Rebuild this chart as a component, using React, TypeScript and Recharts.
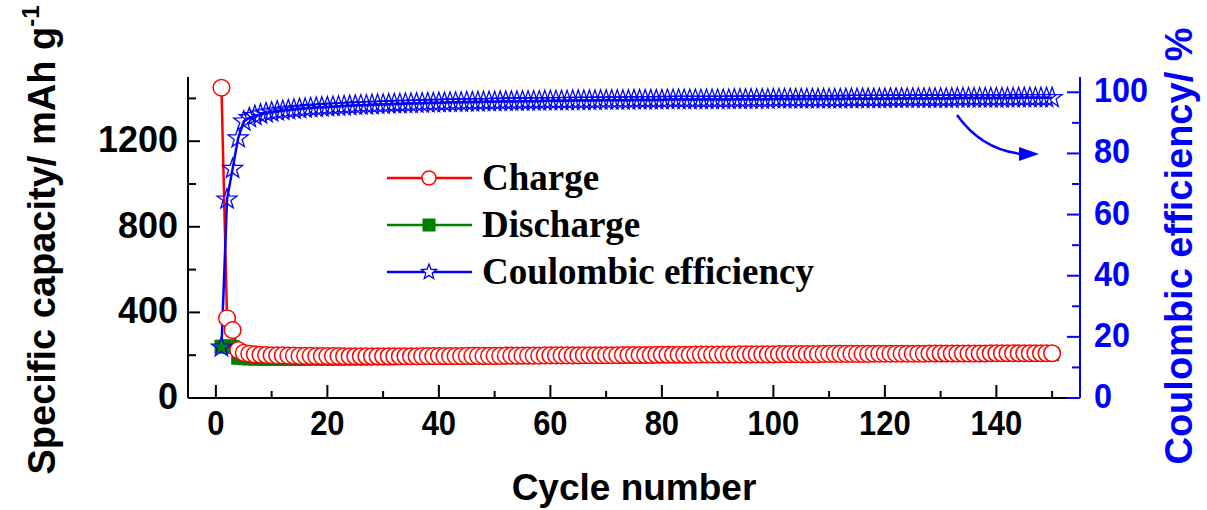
import React from 'react';
import { ComposedChart, Line, XAxis, YAxis, Legend } from 'recharts';

// ---------------- data ----------------
const chargeCapacity = [
  1450, 373, 317, 224, 211, 207, 204, 202, 201, 200,
  199, 199, 198, 198, 197, 197, 197, 196, 196, 196,
  196, 196, 195, 195, 195, 195, 195, 195, 195, 195,
  195, 195, 195, 195, 195, 195, 196, 196, 196, 196,
  196, 196, 196, 196, 197, 197, 197, 197, 197, 197,
  197, 198, 198, 198, 198, 198, 198, 198, 199, 199,
  199, 199, 199, 199, 199, 200, 200, 200, 200, 200,
  200, 200, 201, 201, 201, 201, 201, 201, 202, 202,
  202, 202, 202, 202, 202, 203, 203, 203, 203, 203,
  203, 203, 203, 204, 204, 204, 204, 204, 204, 204,
  205, 205, 205, 205, 205, 205, 205, 205, 206, 206,
  206, 206, 206, 206, 206, 206, 206, 207, 207, 207,
  207, 207, 207, 207, 207, 207, 207, 208, 208, 208,
  208, 208, 208, 208, 208, 208, 208, 208, 209, 209,
  209, 209, 209, 209, 209, 209, 209, 209, 209, 209,
];

const dischargeCapacity = [
  240, 242, 238, 188, 186, 185, 184, 184, 183, 183,
  183, 183, 183, 183, 183, 184, 184, 184, 184, 184,
  184, 184, 185, 185, 185, 185, 185, 186, 186, 186,
  186, 186, 187, 187, 187, 187, 188, 188, 188, 188,
  188, 188, 189, 189, 189, 189, 190, 190, 190, 190,
  190, 191, 191, 191, 191, 191, 192, 192, 192, 192,
  193, 193, 193, 193, 193, 194, 194, 194, 194, 194,
  195, 195, 195, 195, 195, 196, 196, 196, 196, 196,
  197, 197, 197, 197, 197, 197, 198, 198, 198, 198,
  198, 198, 199, 199, 199, 199, 199, 199, 199, 200,
  200, 200, 200, 200, 200, 200, 201, 201, 201, 201,
  201, 201, 201, 202, 202, 202, 202, 202, 202, 203,
  203, 203, 203, 203, 203, 203, 203, 204, 204, 204,
  204, 204, 204, 204, 204, 204, 204, 205, 205, 205,
  205, 205, 205, 205, 205, 205, 205, 205, 205, 205,
];

const coulombicEfficiency = [
  16.6, 65, 75, 85, 90.5, 91.6, 92.3, 92.8, 93.2, 93.5,
  93.8, 94.0, 94.2, 94.4, 94.6, 94.7, 94.9, 95.0, 95.1, 95.2,
  95.3, 95.4, 95.5, 95.6, 95.7, 95.8, 95.8, 95.9, 96.0, 96.0,
  96.1, 96.2, 96.2, 96.3, 96.3, 96.4, 96.4, 96.5, 96.5, 96.6,
  96.6, 96.7, 96.7, 96.7, 96.8, 96.8, 96.8, 96.9, 96.9, 96.9,
  97.0, 97.0, 97.0, 97.0, 97.1, 97.1, 97.1, 97.1, 97.2, 97.2,
  97.2, 97.2, 97.2, 97.3, 97.3, 97.3, 97.3, 97.3, 97.4, 97.4,
  97.4, 97.4, 97.4, 97.4, 97.5, 97.5, 97.5, 97.5, 97.5, 97.5,
  97.6, 97.6, 97.6, 97.6, 97.6, 97.6, 97.6, 97.6, 97.6, 97.6,
  97.6, 97.6, 97.7, 97.7, 97.7, 97.7, 97.7, 97.7, 97.7, 97.8,
  97.8, 97.8, 97.8, 97.8, 97.8, 97.8, 97.8, 97.8, 97.8, 97.8,
  97.8, 97.8, 97.9, 97.9, 97.9, 97.9, 97.9, 97.9, 97.9, 97.9,
  98.0, 98.0, 98.0, 98.0, 98.0, 98.0, 98.0, 98.0, 98.0, 98.0,
  98.0, 98.0, 98.1, 98.1, 98.1, 98.1, 98.1, 98.1, 98.1, 98.1,
  98.1, 98.1, 98.1, 98.2, 98.2, 98.2, 98.2, 98.2, 98.2, 98.2,
];

const cycleNumbers = chargeCapacity.map((_, i) => i + 1);

const xTicks = [0, 10, 20, 30, 40, 50, 60, 70, 80, 90, 100, 110, 120, 130, 140, 150];
const xLabelTicks = [0, 20, 40, 60, 80, 100, 120, 140];
const leftTicks = [0, 200, 400, 600, 800, 1000, 1200, 1400];
const leftLabelTicks = [0, 400, 800, 1200];
const rightTicks = [0, 10, 20, 30, 40, 50, 60, 70, 80, 90, 100];
const rightLabelTicks = [0, 20, 40, 60, 80, 100];

const seriesNames = ['Charge', 'Discharge', 'Coulombic efficiency'];

const data = cycleNumbers.map((c, i) => ({
  cycle: c,
  charge: chargeCapacity[i],
  discharge: dischargeCapacity[i],
  ce: coulombicEfficiency[i],
}));

// ---------------- styles ----------------
const RED = '#FF0000';
const GREEN = '#008000';
const BLUE = '#0000FF';
const SANS = '"Liberation Sans", Arial, sans-serif';
const SERIF = '"Liberation Serif", "Times New Roman", serif';
const TICK_FONT = 36;

const starPath = (cx: number, cy: number, R: number, r: number) => {
  let d = '';
  for (let k = 0; k < 10; k++) {
    const rad = k % 2 === 0 ? R : r;
    const a = -Math.PI / 2 + (k * Math.PI) / 5;
    d += (k === 0 ? 'M' : 'L') + (cx + rad * Math.cos(a)).toFixed(2) + ',' + (cy + rad * Math.sin(a)).toFixed(2);
  }
  return d + 'Z';
};

const CircleDot = (p: any) => {
  if (p.cx == null || p.cy == null) return <g key={p.index} />;
  return <circle key={p.index} cx={p.cx} cy={p.cy} r={8.3} fill="#fff" stroke={RED} strokeWidth={1.5} />;
};
const SquareDot = (p: any) => {
  if (p.cx == null || p.cy == null) return <g key={p.index} />;
  return <rect key={p.index} x={p.cx - 7} y={p.cy - 7} width={14} height={14} fill={GREEN} />;
};
const StarDot = (p: any) => {
  if (p.cx == null || p.cy == null) return <g key={p.index} />;
  return <path key={p.index} d={starPath(p.cx, p.cy, 10.5, 4.2)} fill="none" stroke={BLUE} strokeWidth={1.3} />;
};

const BottomTick = (p: any) => {
  const v = p.payload.value;
  const major = xLabelTicks.includes(v);
  return (
    <g>
      <line x1={p.x} x2={p.x} y1={p.y} y2={p.y - (major ? 13 : 7)} stroke="#000" strokeWidth={2} />
      {major && (
        <text
          transform={`translate(${p.x},${p.y + 37}) scale(0.86,1)`}
          textAnchor="middle"
          fontFamily={SANS}
          fontWeight="bold"
          fontSize={TICK_FONT}
          fill="#000"
        >
          {v}
        </text>
      )}
    </g>
  );
};

const TopTick = (p: any) => {
  const v = p.payload.value;
  const major = xLabelTicks.includes(v);
  return <line x1={p.x} x2={p.x} y1={p.y} y2={p.y + (major ? 13 : 8)} stroke={BLUE} strokeWidth={2} />;
};

const LeftTick = (p: any) => {
  const v = p.payload.value;
  const major = leftLabelTicks.includes(v);
  return (
    <g>
      <line x1={p.x} x2={p.x + (major ? 12 : 8)} y1={p.y} y2={p.y} stroke="#000" strokeWidth={2} />
      {major && (
        <text x={p.x - 10} y={p.y + 11} textAnchor="end" fontFamily={SANS} fontWeight="bold" fontSize={TICK_FONT} fill="#000">
          {v}
        </text>
      )}
    </g>
  );
};

const RightTick = (p: any) => {
  const v = p.payload.value;
  const major = rightLabelTicks.includes(v);
  return (
    <g>
      <line x1={p.x} x2={p.x - (major ? 13 : 8)} y1={p.y} y2={p.y} stroke={BLUE} strokeWidth={2} />
      {major && (
        <text
          transform={`translate(${p.x + 14},${p.y + 10}) scale(0.9,1)`}
          textAnchor="start"
          fontFamily={SANS}
          fontWeight="bold"
          fontSize={TICK_FONT}
          fill={BLUE}
        >
          {v}
        </text>
      )}
    </g>
  );
};

const renderLegend = () => {
  const rows = [
    { name: seriesNames[0], color: RED, kind: 'circle' },
    { name: seriesNames[1], color: GREEN, kind: 'square' },
    { name: seriesNames[2], color: BLUE, kind: 'star' },
  ];
  return (
    <svg width={460} height={150} style={{ display: 'block', overflow: 'visible' }}>
      {rows.map((r, i) => {
        const cy = 23 + i * 47;
        return (
          <g key={r.name}>
            <line x1={0} x2={85} y1={cy} y2={cy} stroke={r.color} strokeWidth={2.5} />
            {r.kind === 'circle' && <circle cx={42} cy={cy} r={7} fill="#fff" stroke={r.color} strokeWidth={1.5} />}
            {r.kind === 'square' && <rect x={42 - 6.5} y={cy - 6.5} width={13} height={13} fill={r.color} />}
            {r.kind === 'star' && <path d={starPath(42, cy, 8, 3.4)} fill="#fff" stroke={r.color} strokeWidth={1.3} />}
            <text x={95} y={cy + 12} fontFamily={SERIF} fontWeight="bold" fontSize={37} fill="#000">
              {r.name}
            </text>
          </g>
        );
      })}
    </svg>
  );
};

export default function App() {
  return (
    <div style={{ position: 'absolute', left: 0, top: 0, width: 1207, height: 510, background: '#fff' }}>
      <ComposedChart
        width={1207}
        height={510}
        data={data}
        margin={{ top: 77, right: 27, bottom: 52, left: 68 }}
      >
        <XAxis
          xAxisId="bottom"
          dataKey="cycle"
          type="number"
          domain={[-5, 155]}
          ticks={xTicks}
          interval={0}
          height={60}
          tickSize={0}
          tickMargin={0}
          tickLine={false}
          axisLine={{ stroke: '#000', strokeWidth: 2 }}
          tick={<BottomTick />}
        />
        <XAxis
          xAxisId="top"
          orientation="top"
          dataKey="cycle"
          type="number"
          domain={[-5, 155]}
          ticks={xTicks}
          interval={0}
          height={0}
          tickSize={0}
          tickMargin={0}
          tickLine={false}
          axisLine={{ stroke: BLUE, strokeWidth: 2 }}
          tick={<TopTick />}
        />
        <YAxis
          yAxisId="left"
          type="number"
          domain={[0, 1500]}
          ticks={leftTicks}
          interval={0}
          width={120}
          tickSize={0}
          tickMargin={0}
          tickLine={false}
          axisLine={{ stroke: '#000', strokeWidth: 2 }}
          tick={<LeftTick />}
        />
        <YAxis
          yAxisId="right"
          orientation="right"
          type="number"
          domain={[0, 105]}
          ticks={rightTicks}
          interval={0}
          width={100}
          tickSize={0}
          tickMargin={0}
          tickLine={false}
          axisLine={{ stroke: BLUE, strokeWidth: 2 }}
          tick={<RightTick />}
        />
        <Legend
          layout="vertical"
          align="center"
          verticalAlign="middle"
          content={renderLegend}
          wrapperStyle={{ left: 387, top: 155, width: 460, height: 150 }}
        />
        <Line
          xAxisId="bottom"
          yAxisId="left"
          dataKey="discharge"
          name={seriesNames[1]}
          type="linear"
          stroke={GREEN}
          strokeWidth={2.5}
          dot={SquareDot}
          activeDot={false}
          isAnimationActive={false}
        />
        <Line
          xAxisId="bottom"
          yAxisId="left"
          dataKey="charge"
          name={seriesNames[0]}
          type="linear"
          stroke={RED}
          strokeWidth={2.5}
          dot={CircleDot}
          activeDot={false}
          isAnimationActive={false}
        />
        <Line
          xAxisId="bottom"
          yAxisId="right"
          dataKey="ce"
          name={seriesNames[2]}
          type="linear"
          stroke={BLUE}
          strokeWidth={2.5}
          dot={StarDot}
          activeDot={false}
          isAnimationActive={false}
        />
      </ComposedChart>
      <svg
        width={1207}
        height={510}
        style={{ position: 'absolute', left: 0, top: 0, pointerEvents: 'none' }}
      >
        <text
          transform="translate(55,240) rotate(-90)"
          textAnchor="middle"
          fontFamily={SANS}
          fontWeight="bold"
          fontSize={38}
          fill="#000"
        >
          Specific capacity/ mAh g<tspan dy={-16} fontSize={24}>-1</tspan>
        </text>
        <text x={634} y={500} textAnchor="middle" fontFamily={SANS} fontWeight="bold" fontSize={37} fill="#000">
          Cycle number
        </text>
        <text
          transform="translate(1192,246) rotate(-90)"
          textAnchor="middle"
          fontFamily={SANS}
          fontWeight="bold"
          fontSize={38}
          fill={BLUE}
        >
          Coulombic efficiency/ %
        </text>
        <path d="M957,115 Q982,150 1022,154" fill="none" stroke={BLUE} strokeWidth={2.5} />
        <path d="M1019,147 L1039,154 L1019,161 Z" fill={BLUE} />
      </svg>
    </div>
  );
}
